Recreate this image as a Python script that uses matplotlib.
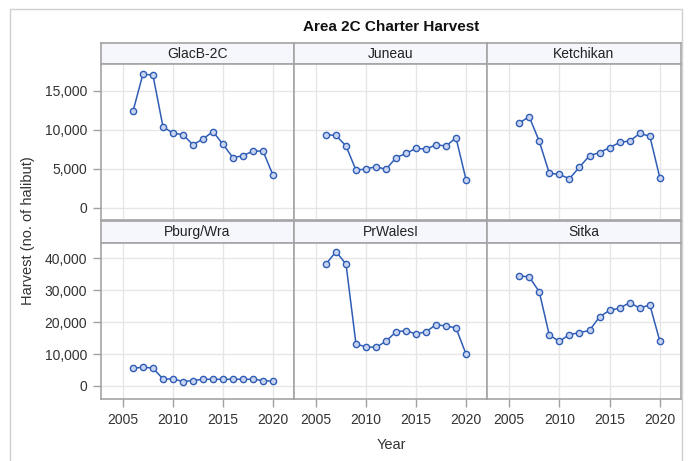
import numpy as np
import matplotlib.pyplot as plt
from matplotlib.patches import Rectangle

plt.rcParams['font.family'] = ['Liberation Sans', 'DejaVu Sans']

years = list(range(2006, 2021))
regions = ['GlacB-2C', 'Juneau', 'Ketchikan', 'Pburg/Wra', 'PrWalesI', 'Sitka']

glacb = [12400, 17200, 17000, 10400, 9600, 9400, 8100, 8850, 9800, 8150, 6450, 6700, 7300, 7300, 4200]
juneau = [9400, 9300, 7950, 4850, 5000, 5300, 4950, 6450, 7000, 7650, 7550, 8100, 7950, 9000, 3650]
ketchikan = [10900, 11700, 8550, 4450, 4300, 3750, 5250, 6700, 7100, 7750, 8400, 8600, 9550, 9200, 3850]
pburg = [5500, 5900, 5600, 2200, 2200, 1400, 1700, 2100, 2100, 2100, 2100, 2100, 2100, 1700, 1500]
prwales = [38200, 42100, 38200, 13100, 12300, 12100, 14000, 17000, 17300, 16300, 17000, 19200, 18800, 18200, 10000]
sitka = [34500, 34200, 29500, 15900, 14000, 16100, 16700, 17400, 21700, 23700, 24400, 26100, 24400, 25400, 14000]
series = [glacb, juneau, ketchikan, pburg, prwales, sitka]

W, H = 689, 461
fig = plt.figure(figsize=(W / 100, H / 100), dpi=100)

def box(x0, y0, x1, y1):
    return [x0 / W, 1 - y1 / H, (x1 - x0) / W, (y1 - y0) / H]

cols = [(101, 294), (294, 487), (487, 681)]
rows = [(43, 64, 220), (221, 243, 399)]   # strip top, plot top, plot bottom
ylims = [(-1540, 18460), (-4080, 44800)]
yticks = [[0, 5000, 10000, 15000], [0, 10000, 20000, 30000, 40000]]

edge = '#a4a4a4'
blue = '#2f5db5'

# outer frame
fig.patches.append(Rectangle((10 / W, -0.05), 672 / W, 1.05 - 9 / H, transform=fig.transFigure,
                             fill=False, edgecolor='#d0d0d0', lw=1))

for i, name in enumerate(regions):
    r, c = divmod(i, 3)
    x0, x1 = cols[c]
    st, pt, pb = rows[r]

    strip = fig.add_axes(box(x0, st, x1, pt))
    strip.set_facecolor('#f5f7fd')
    strip.set_xticks([])
    strip.set_yticks([])
    for s in strip.spines.values():
        s.set_color(edge)
        s.set_linewidth(1.2)
    strip.text(0.5, 0.48, name, ha='center', va='center', fontsize=10, color='#222222',
               transform=strip.transAxes)

    ax = fig.add_axes(box(x0, pt, x1, pb))
    ax.plot(years, series[i], color=blue, lw=1.1, marker='o', ms=4.5,
            mfc='#c9d5f0', mec=blue, mew=1.0, zorder=3)
    ax.set_xlim(2002.8, 2022.1)
    ax.set_ylim(*ylims[r])
    ax.set_xticks([2005, 2010, 2015, 2020])
    ax.set_yticks(yticks[r])
    ax.grid(True, color='#e6e6e6', lw=1)
    ax.set_axisbelow(True)
    for s in ax.spines.values():
        s.set_color(edge)
        s.set_linewidth(1.2)
    ax.tick_params(length=6, width=1, color='#a0a0a0', labelsize=10, labelcolor='#333333', pad=4)
    if c == 0:
        ax.set_yticklabels([f'{v:,}' for v in yticks[r]])
    else:
        ax.tick_params(axis='y', left=False, labelleft=False)
    if r == 0:
        ax.tick_params(axis='x', bottom=False, labelbottom=False)

fig.text(391 / W, 1 - 27 / H, 'Area 2C Charter Harvest', ha='center', va='center',
         fontsize=11, fontweight='bold', color='#111111')
fig.text(391 / W, 1 - 445 / H, 'Year', ha='center', va='center', fontsize=10.5, color='#333333')
fig.text(28 / W, 1 - 231 / H, 'Harvest (no. of halibut)', ha='center', va='center',
         rotation=90, fontsize=10.5, color='#333333')

fig.savefig('out.png', dpi=100)
